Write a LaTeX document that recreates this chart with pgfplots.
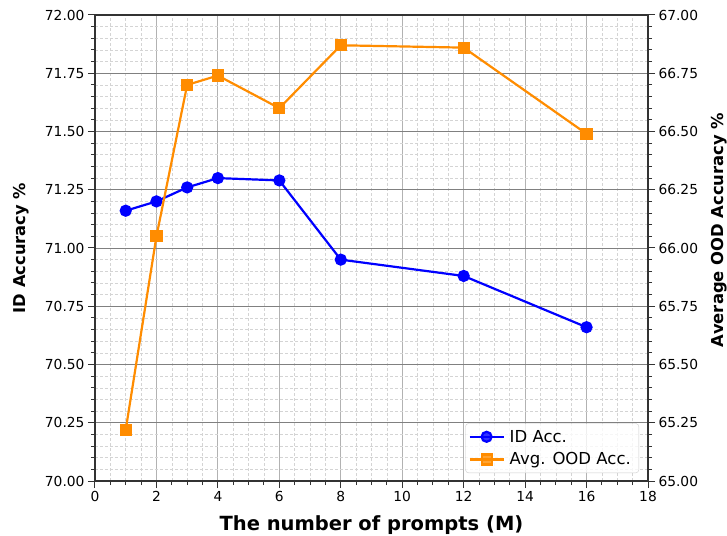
\documentclass[border=0pt]{standalone}
\usepackage{pgfplots}
\pgfplotsset{compat=1.18}
\usepackage{fontspec}
\setmainfont{DejaVu Sans}
\definecolor{dorange}{HTML}{FF8C00}
\definecolor{spine}{HTML}{333333}
\pgfplotstableread{
x y
1 71.16
2 71.20
3 71.26
4 71.30
6 71.29
8 70.95
12 70.88
16 70.66
}\idtab
\pgfplotstableread{
x y
1 65.22
2 66.05
3 66.70
4 66.74
6 66.60
8 66.87
12 66.86
16 66.49
}\oodtab
\pgfplotsset{
  common/.style={
    scale only axis, width=553pt, height=466pt,
    xmin=0, xmax=18,
    /pgf/number format/assume math mode=true,
    tick label style={font=\fontsize{13.8}{16}\selectfont},
    tick align=outside,
    major tick length=7pt, minor tick length=4pt,
    every tick/.style={spine, line width=1pt},
    axis line style={spine, line width=1.3pt},
  }
}
\begin{document}
\begin{tikzpicture}
\begin{axis}[common,
  ymin=70, ymax=72,
  xtick={0,2,...,18}, ytick={70,70.25,...,72.01},
  minor x tick num=3, minor y tick num=4,
  xtick pos=bottom, ytick pos=left,
  yticklabel style={/pgf/number format/.cd, fixed, fixed zerofill, precision=2},
  grid=both,
  major x grid style={color=black!30, line width=0.9pt},
  major y grid style={color=black!50, line width=0.9pt},
  minor grid style={color=black!17, line width=0.6pt, dash pattern=on 3pt off 2pt},
  xlabel={\bfseries The number of prompts (M)},
  xlabel style={font=\fontsize{19.5}{22}\selectfont, at={(axis description cs:0.5,0)}, anchor=base, yshift=-49pt},
  ylabel={\bfseries ID Accuracy \%},
  ylabel style={font=\fontsize{16.3}{19}\selectfont, at={(axis description cs:-0.1248,0.5)}, anchor=base},
]
\addplot[blue, line width=2.2pt, mark=*, mark size=5pt, mark options={solid}] table[x=x,y=y] {\idtab};
\coordinate (SW) at (rel axis cs:0,0);
\coordinate (NE) at (rel axis cs:1,1);
\end{axis}
\begin{axis}[common,
  ymin=65, ymax=67,
  hide x axis,
  ytick={65,65.25,...,67.01},
  minor y tick num=4,
  ytick pos=right, yticklabel pos=right,
  yticklabel style={/pgf/number format/.cd, fixed, fixed zerofill, precision=2},
  ylabel={\bfseries Average OOD Accuracy \%},
  ylabel style={font=\fontsize{16.4}{19}\selectfont, at={(axis description cs:1.1356,0.539)}, anchor=base},
  legend style={at={(1,0)}, anchor=south east, xshift=-9pt, yshift=8pt,
    draw=black!20, rounded corners=3pt, fill=white, fill opacity=0.8, text opacity=1,
    font=\fontsize{16.5}{19}\selectfont, inner xsep=3pt, inner ysep=4pt, row sep=4pt,
    nodes={inner xsep=5pt, inner ysep=2.5pt}},
  legend cell align=left,
  legend image code/.code={\draw[mark repeat=2, mark phase=2, #1] plot coordinates {(0pt,0pt) (17pt,0pt) (34pt,0pt)};},
]
\addlegendimage{blue, line width=2.2pt, mark=*, mark size=5pt}
\addlegendentry{ID Acc.}
\addplot[dorange, line width=2.2pt, mark=square*, mark size=5pt, mark options={solid}] table[x=x,y=y] {\oodtab};
\addlegendentry{Avg. OOD Acc.}
\end{axis}
\pgfresetboundingbox
\path[use as bounding box] ([shift={(-95pt,-54pt)}]SW) rectangle ([shift={(79pt,15pt)}]NE);
\end{tikzpicture}
\end{document}
